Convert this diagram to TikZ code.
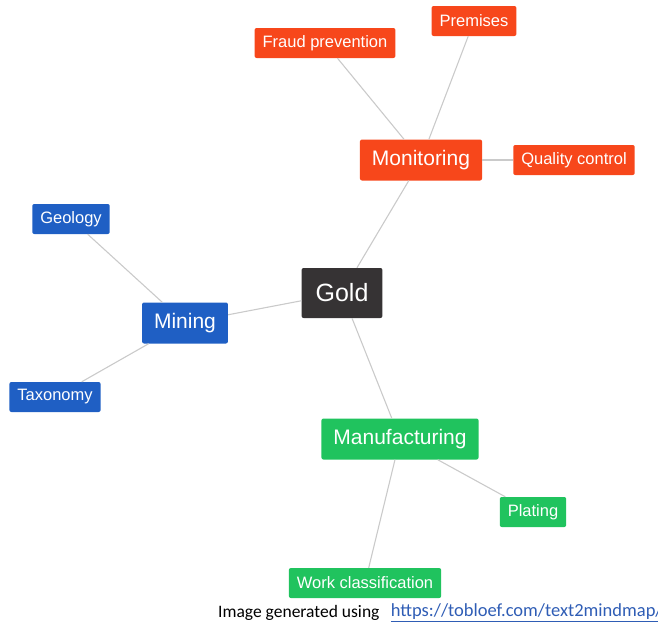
\documentclass[tikz,border=0pt]{standalone}
\usepackage{fontspec}
\setmainfont{Liberation Sans}
\newfontfamily\notefont{Carlito}
\usetikzlibrary{positioning}
\definecolor{rootdark}{HTML}{363334}
\definecolor{monred}{HTML}{F7471B}
\definecolor{minblue}{HTML}{1F5FC4}
\definecolor{mangreen}{HTML}{20C35E}
\definecolor{edgegray}{HTML}{CACACA}
\definecolor{urlblue}{HTML}{2F5DB5}
\tikzset{
  topicbox/.style={rounded corners=2pt, text=white, align=center,
    inner xsep=8pt, inner ysep=0pt, minimum height=30pt,
    font=\fontsize{16.5}{19}\selectfont},
  rootbox/.style={topicbox, fill=rootdark, inner xsep=14pt,
    minimum height=50pt, font=\fontsize{25}{30}\selectfont},
  mainbox/.style={topicbox, inner xsep=12pt, minimum height=41pt,
    font=\fontsize{21}{25}\selectfont},
  redbox/.style={fill=monred},
  bluebox/.style={fill=minblue},
  greenbox/.style={fill=mangreen},
  branch/.style={draw=edgegray, line width=1.1pt}
}

\begin{document}
\begin{tikzpicture}[x=1pt, y=-1pt]
  \useasboundingbox (0,0) rectangle (658,629);
  % central topic and main branches
  \node[rootbox] (gold) at (342,293) {Gold};
  \node[mainbox, redbox] (monitor) at (421,160) {Monitoring};
  \node[mainbox, bluebox] (mining) at (185,323) {Mining};
  \node[mainbox, greenbox] (manuf) at (400,439) {Manufacturing};
  % leaves
  \node[topicbox, redbox] (fraud) at (325,43) {Fraud prevention};
  \node[topicbox, redbox] (premises) at (474,21) {Premises};
  \node[topicbox, redbox] (quality) at (574,160) {Quality control};
  \node[topicbox, bluebox] (geology) at (71,219) {Geology};
  \node[topicbox, bluebox] (taxonomy) at (55,397) {Taxonomy};
  \node[topicbox, greenbox] (plating) at (533,512) {Plating};
  \node[topicbox, greenbox] (work) at (365,583) {Work classification};
  \draw[branch] (gold) -- (monitor);
  \draw[branch] (gold) -- (mining);
  \draw[branch] (gold) -- (manuf);
  \draw[branch] (monitor) -- (fraud);
  \draw[branch] (monitor) -- (premises);
  \draw[branch] (monitor) -- (quality);
  \draw[branch] (mining) -- (geology);
  \draw[branch] (mining) -- (taxonomy);
  \draw[branch] (manuf) -- (plating);
  \draw[branch] (manuf) -- (work);
  % credit line
  \node[anchor=west, inner sep=0pt, font=\notefont\fontsize{17.5}{20}\selectfont]
    (credit) at (218,613) {Image generated using};
  \node[right=11pt of credit, inner sep=0pt, text=urlblue,
    font=\notefont\fontsize{18.5}{20}\selectfont]
    (url) {\underline{https://tobloef.com/text2mindmap/}};
\end{tikzpicture}
\end{document}
